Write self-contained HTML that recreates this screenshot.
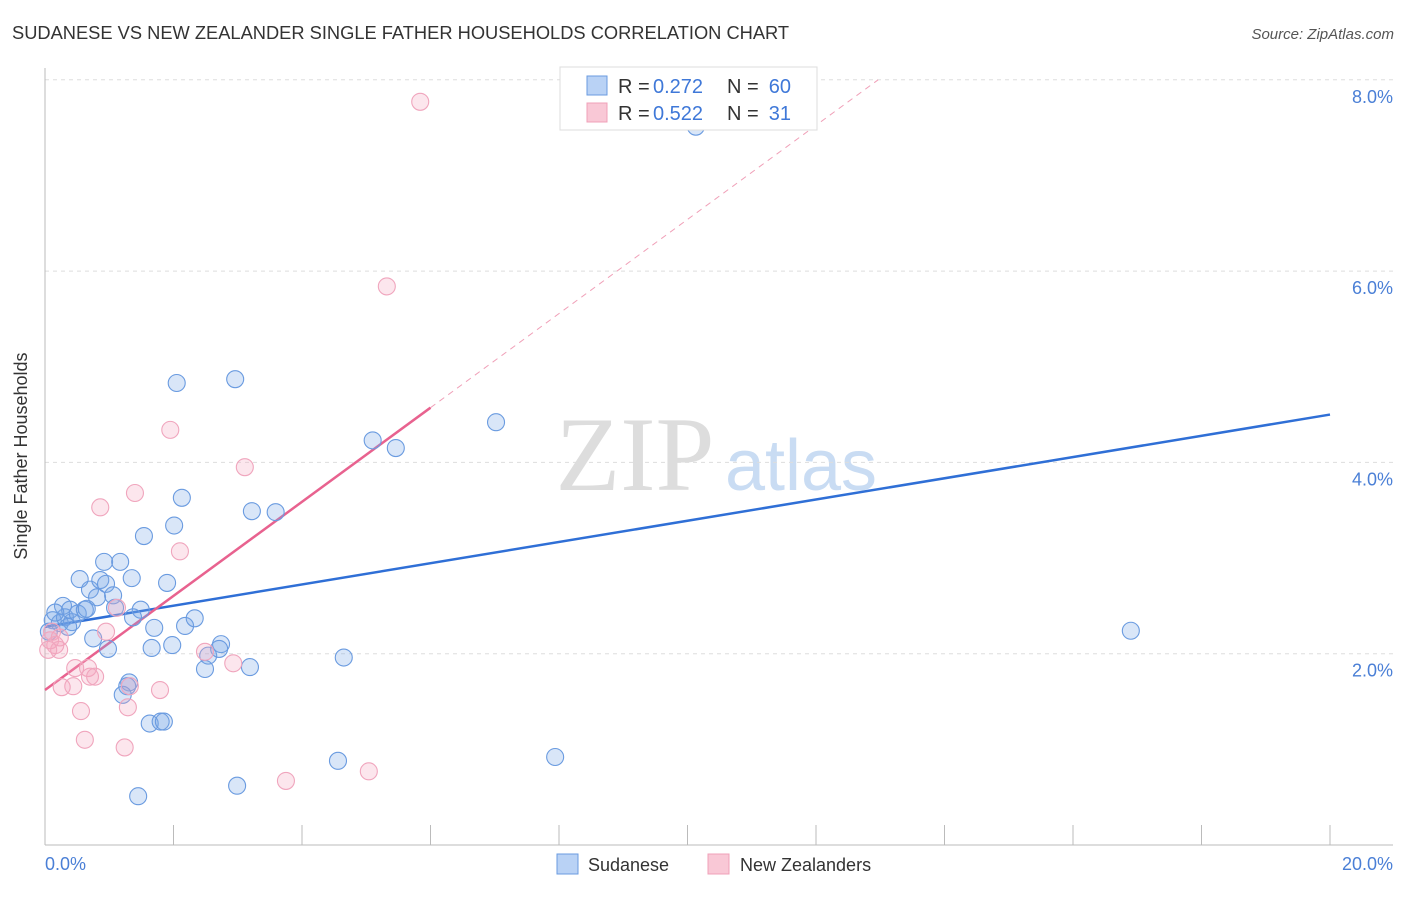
<!DOCTYPE html>
<html><head><meta charset="utf-8"><style>
body{margin:0;background:#fff;font-family:"Liberation Sans",sans-serif}
</style></head><body>
<svg width="1406" height="892" xmlns="http://www.w3.org/2000/svg" font-family="Liberation Sans, sans-serif">
<text x="12" y="39" font-size="18.3" fill="#333">SUDANESE VS NEW ZEALANDER SINGLE FATHER HOUSEHOLDS CORRELATION CHART</text>
<text x="1394" y="39" font-size="15" fill="#555" font-style="italic" text-anchor="end">Source: ZipAtlas.com</text>
<text x="635" y="490" font-size="106" fill="#ddd" font-family="Liberation Serif, serif" text-anchor="middle">ZIP</text>
<text x="801" y="490" font-size="72" fill="#c9dcf3" text-anchor="middle">atlas</text>
<g id="grid"></g>
<line x1="45" y1="68" x2="45" y2="845" stroke="#bbb"/>
<line x1="45" y1="845" x2="1393" y2="845" stroke="#bbb"/>
<text x="27" y="456" font-size="18" fill="#333" text-anchor="middle" transform="rotate(-90 27 456)">Single Father Households</text>
<text x="45" y="870" font-size="18" fill="#4a7fd6">0.0%</text>
<text x="1393" y="870" font-size="18" fill="#4a7fd6" text-anchor="end">20.0%</text>
<g id="lines"></g>
<g id="points"></g>
<g>
<rect x="560" y="67" width="257" height="63" fill="#fff" stroke="#ddd"/>
<rect x="587" y="76" width="20" height="19" fill="#b9d2f5" stroke="#6a9be0"/>
<text x="618" y="93" font-size="20" fill="#333">R = </text>
<text x="653" y="93" font-size="20" fill="#3f78d8">0.272</text>
<text x="727" y="93" font-size="20" fill="#333">N = </text>
<text x="791" y="93" font-size="20" fill="#3f78d8" text-anchor="end">60</text>
<rect x="587" y="103" width="20" height="19" fill="#f9c8d6" stroke="#f0a0b8"/>
<text x="618" y="120" font-size="20" fill="#333">R = </text>
<text x="653" y="120" font-size="20" fill="#3f78d8">0.522</text>
<text x="727" y="120" font-size="20" fill="#333">N = </text>
<text x="791" y="120" font-size="20" fill="#3f78d8" text-anchor="end">31</text>
</g>
<g>
<rect x="557" y="854" width="21" height="20" fill="#b9d2f5" stroke="#6a9be0"/>
<text x="588" y="871" font-size="18" fill="#333">Sudanese</text>
<rect x="708" y="854" width="21" height="20" fill="#f9c8d6" stroke="#f0a0b8"/>
<text x="740" y="871" font-size="18" fill="#333">New Zealanders</text>
</g>
</svg>
<script>
const yTicks=[2,4,6,8];
const xTicks=[0,2,4,6,8,10,12,14,16,18,20];
const sudX=[0.12,0.23,0.31,0.42,0.28,0.39,0.51,0.62,0.70,0.54,0.81,0.86,0.92,0.95,1.06,1.17,1.09,1.35,1.49,1.37,1.54,1.90,2.01,2.13,2.05,2.96,3.22,3.59,1.70,1.66,1.98,2.18,2.33,2.54,2.49,2.74,2.71,3.19,4.65,5.10,5.46,7.02,16.90,10.13,0.75,0.98,1.31,1.28,1.21,1.63,1.80,1.85,1.45,2.99,4.56,7.94,0.36,0.06,0.16,0.65];
const sudY=[2.35,2.32,2.38,2.33,2.50,2.46,2.42,2.46,2.67,2.78,2.59,2.77,2.96,2.73,2.61,2.96,2.48,2.79,2.46,2.38,3.23,2.74,3.34,3.63,4.83,4.87,3.49,3.48,2.27,2.06,2.09,2.29,2.37,1.98,1.84,2.10,2.05,1.86,1.96,4.23,4.15,4.42,2.24,7.51,2.16,2.05,1.70,1.66,1.57,1.27,1.29,1.29,0.51,0.62,0.88,0.92,2.28,2.23,2.43,2.47];
const nzX=[5.84,5.32,1.95,3.11,1.40,0.86,2.10,1.12,0.95,2.49,2.93,0.08,0.16,0.23,0.11,0.47,0.67,0.78,0.70,1.32,1.79,0.44,0.26,1.29,0.56,0.62,1.24,3.75,5.04,0.22,0.05];
const nzY=[7.77,5.84,4.34,3.95,3.68,3.53,3.07,2.48,2.23,2.02,1.90,2.14,2.09,2.17,2.23,1.85,1.85,1.76,1.76,1.66,1.62,1.66,1.65,1.44,1.40,1.10,1.02,0.67,0.77,2.04,2.04];
const sudLine=[2.28,4.50];
const nzLine=[1.62,0.492];
const X=v=>45+v*64.25, Y=v=>845-v*95.65;
const NS="http://www.w3.org/2000/svg";
function mk(t,a,p){const e=document.createElementNS(NS,t);for(const k in a)e.setAttribute(k,a[k]);p.appendChild(e);return e;}
const grid=document.getElementById('grid');
yTicks.forEach(t=>{
 const l=mk('line',{x1:45,x2:1393,y1:Y(t),y2:Y(t),stroke:'#ddd','stroke-dasharray':'4,4'},grid);
 
 
 const tx=mk('text',{x:1393,y:Y(t)+23,'font-size':18,fill:'#4a7fd6','text-anchor':'end'},grid);
 tx.textContent=t.toFixed(1)+'%';
 
 
});
xTicks.forEach(t=>{
 const l=mk('line',{x1:X(t),x2:X(t),y1:825,y2:845,stroke:'#bbb'},grid);
 
 
});
const pts=document.getElementById('points');
sudX.forEach((x,i)=>{
 const c=mk('circle',{cx:X(x),cy:Y(sudY[i]),r:8.5,fill:'rgba(120,165,230,0.28)',stroke:'#6a9be0','stroke-width':1.1},pts);
 
 
});
nzX.forEach((x,i)=>{
 const c=mk('circle',{cx:X(x),cy:Y(nzY[i]),r:8.5,fill:'rgba(245,165,190,0.28)',stroke:'#f0a5bd','stroke-width':1.1},pts);
 
 
});
const ln=document.getElementById('lines');
const b=mk('line',{x1:X(0),y1:Y(sudLine[0]),x2:X(20),y2:Y(sudLine[1]),stroke:'#2f6fd6','stroke-width':2.5},ln);


const xe=(8-nzLine[0])/nzLine[1];
const d=mk('line',{x1:X(6),y1:Y(nzLine[0]+nzLine[1]*6),x2:X(xe),y2:Y(8),stroke:'#f0a0b8','stroke-width':1,'stroke-dasharray':'6,5'},ln);


const p=mk('line',{x1:X(0),y1:Y(nzLine[0]),x2:X(6),y2:Y(nzLine[0]+nzLine[1]*6),stroke:'#e8628f','stroke-width':2.5},ln);


</script>
</body></html>
